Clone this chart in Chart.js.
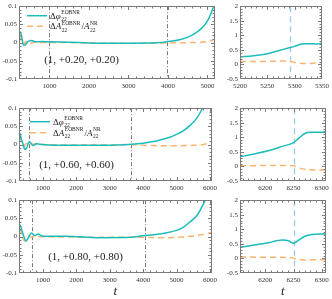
<!DOCTYPE html>
<html><head><meta charset="utf-8">
<script src="https://cdn.jsdelivr.net/npm/chart.js@4.4.0/dist/chart.umd.min.js"></script>
<style>
html,body{margin:0;padding:0;background:#fff;}
#wrap{position:relative;width:332px;height:299px;overflow:hidden;background:#fff;}
canvas{position:absolute;}
</style></head><body><div id="wrap"></div>
<script>
// ---------------- DATA ----------------
// Panel 1 (1, +0.20, +0.20)
const phase1T = [230, 260, 300, 340, 380, 430, 480, 550, 620, 700, 800, 1000, 1500, 2000, 2500, 3000, 3500, 3800, 4000, 4200, 4400, 4600, 4750, 4900, 5000, 5080, 5150, 5190];
const phase1V = [0.028, 0.030, 0.015, -0.006, -0.007, 0.000, 0.004, 0.006, 0.003, 0.002, 0.003, 0.002, 0.001, -0.001, -0.002, -0.002, -0.001, 0.000, 0.003, 0.006, 0.011, 0.020, 0.030, 0.045, 0.060, 0.078, 0.098, 0.115];
const amp1T = [230, 270, 310, 350, 400, 460, 520, 600, 800, 1500, 2500, 3500, 4000, 4500, 4800, 5000, 5100, 5190];
const amp1V = [0.020, 0.015, -0.002, -0.006, 0.003, 0.002, -0.002, 0.001, 0.000, 0.000, -0.002, -0.002, -0.001, 0.000, 0.001, 0.003, 0.006, 0.010];
const phaseR1T = [5200, 5225, 5250, 5270, 5290, 5300, 5310, 5320, 5335, 5342, 5350];
const phaseR1V = [0.26, 0.30, 0.37, 0.47, 0.57, 0.62, 0.69, 0.71, 0.71, 0.70, 0.74];
const ampR1T = [5200, 5230, 5260, 5285, 5292, 5300, 5310, 5320, 5335, 5350];
const ampR1V = [0.10, 0.10, 0.11, 0.12, 0.11, 0.07, 0.04, 0.03, 0.04, 0.07];
// Panel 2 (1, +0.60, +0.60)
const phase2T = [285, 315, 360, 400, 460, 510, 590, 660, 710, 800, 900, 1200, 2000, 2700, 3200, 3650, 4000, 4400, 4800, 5000, 5200, 5400, 5600, 5750, 5850];
const phase2V = [0.032, 0.030, 0.012, 0.003, -0.013, -0.010, 0.008, 0.002, -0.003, 0.002, 0.001, -0.001, -0.002, -0.002, -0.001, 0.001, 0.004, 0.010, 0.020, 0.028, 0.038, 0.052, 0.072, 0.095, 0.115];
const amp2T = [285, 330, 380, 430, 500, 580, 700, 1000, 2000, 3000, 3600, 4000, 4500, 5000, 5500, 5800, 6000, 6050];
const amp2V = [0.015, 0.018, 0.005, -0.005, 0.003, -0.002, 0.001, 0.000, -0.001, -0.001, 0.000, -0.002, -0.003, -0.003, -0.002, 0.000, 0.006, 0.010];
const phaseR2T = [6155, 6180, 6205, 6230, 6250, 6260, 6270, 6280, 6307];
const phaseR2V = [0.33, 0.43, 0.54, 0.69, 0.82, 0.98, 1.13, 1.17, 1.17];
const ampR2T = [6155, 6200, 6240, 6250, 6258, 6270, 6290, 6307];
const ampR2V = [0.02, 0.03, 0.03, 0.02, -0.04, -0.10, -0.12, -0.12];
// Panel 3 (1, +0.80, +0.80)
const phase3T = [285, 315, 360, 413, 491, 559, 657, 755, 853, 1000, 1700, 2700, 3650, 4040, 4300, 4630, 5000, 5220, 5400, 5610, 5750, 5860, 5950];
const phase3V = [0.030, 0.032, 0.020, 0.005, -0.012, -0.004, 0.010, 0.003, 0.007, 0.001, 0.001, -0.003, -0.002, 0.003, 0.005, 0.009, 0.017, 0.027, 0.040, 0.058, 0.080, 0.100, 0.120];
const amp3T = [285, 315, 413, 491, 559, 657, 800, 1500, 3000, 4000, 4630, 5200, 5610, 5900, 6050];
const amp3V = [0.015, 0.018, -0.008, -0.012, 0.001, -0.001, 0.000, -0.001, -0.002, -0.002, -0.003, -0.001, 0.003, 0.008, 0.012];
const phaseR3T = [6155, 6180, 6205, 6230, 6242, 6250, 6259, 6270, 6282, 6307];
const phaseR3V = [0.38, 0.46, 0.54, 0.63, 0.60, 0.52, 0.63, 0.76, 0.82, 0.84];
const ampR3T = [6155, 6200, 6245, 6255, 6270, 6307];
const ampR3V = [0.05, 0.04, 0.03, -0.02, -0.05, -0.04];

// vertical markers
const dashDot1 = [1000, 3980];
const dashDot2 = [590, 3640];
const dashDot3 = [680, 4050];
const merger1 = [5291];
const merger2 = [6250];
const merger3 = [6250];

// tick labels
const leftYTicks = [-0.1, -0.05, 0, 0.05, 0.1];
const rightYTicks = [-0.5, 0, 0.5, 1, 1.5, 2];
const leftXTicks1 = [1000, 2000, 3000, 4000, 5000];
const leftXTicks23 = [1000, 2000, 3000, 4000, 5000, 6000];
const rightXTicks1 = [5200, 5250, 5300, 5350];
const rightXTicks23 = [6200, 6250, 6300];
const labels = ['(1, +0.20, +0.20)', '(1, +0.60, +0.60)', '(1, +0.80, +0.80)'];

// ---------------- STYLE ----------------
const CYAN = '#1bbcbc';
const ORANGE = '#fdb46e';
const BLUE = '#9ccbe8';
const FRAME = '#7a7a7a';
const TXT = '#333';
const SERIF = '"Liberation Serif","DejaVu Serif",serif';
const ODASH = [6,4];

function pts(t, v){ return t.map((x,i)=>({x:x, y:v[i]})); }
function fmtY(v){ return (Math.round(v*1000)/1000).toString(); }

function drawRich(ctx, x, y, parts){
  let cx = x;
  parts.forEach(p=>{
    if (p.t){
      ctx.font = (p.it?'italic ':'') + '9px ' + SERIF;
      ctx.fillText(p.t, cx, y);
      cx += ctx.measureText(p.t).width;
    } else {
      ctx.font = '5.5px ' + SERIF;
      let w1 = 0, w2 = 0;
      if (p.sub){ ctx.fillText(p.sub, cx+0.5, y+2.5); w1 = ctx.measureText(p.sub).width; }
      if (p.sup){ ctx.fillText(p.sup, cx+0.5, y-4.5); w2 = ctx.measureText(p.sup).width; }
      cx += Math.max(w1, w2) + 1.5;
    }
  });
}

const framePlugin = {
  id: 'frame',
  beforeDatasetsDraw(chart, args, o){
    const {ctx, chartArea:a} = chart; const x = chart.scales.x;
    ctx.save();
    (o.vlines||[]).forEach(vl=>{
      vl.values.forEach(v=>{
        const px = Math.round(x.getPixelForValue(v))+0.5;
        ctx.strokeStyle = vl.color; ctx.lineWidth = vl.width; ctx.setLineDash(vl.dash);
        ctx.beginPath(); ctx.moveTo(px, a.top); ctx.lineTo(px, a.bottom); ctx.stroke();
      });
    });
    ctx.restore();
  },
  afterDatasetsDraw(chart, args, o){
    const {ctx, chartArea:a} = chart; const x = chart.scales.x, y = chart.scales.y;
    ctx.save();
    ctx.strokeStyle = FRAME; ctx.lineWidth = 1; ctx.setLineDash([]);
    const L = Math.round(a.left)+0.5, R = Math.round(a.right)-0.5, T = Math.round(a.top)+0.5, B = Math.round(a.bottom)-0.5;
    ctx.strokeRect(L, T, R-L, B-T);
    ctx.beginPath();
    const tick = (vals, len, horiz) => vals.forEach(v=>{
      if (horiz){
        const px = Math.round(x.getPixelForValue(v))+0.5;
        if (px < L+1 || px > R-1) return;
        ctx.moveTo(px, B); ctx.lineTo(px, B-len);
        ctx.moveTo(px, T); ctx.lineTo(px, T+len);
      } else {
        const py = Math.round(y.getPixelForValue(v))+0.5;
        if (py < T+1 || py > B-1) return;
        ctx.moveTo(L, py); ctx.lineTo(L+len, py);
        ctx.moveTo(R, py); ctx.lineTo(R-len, py);
      }
    });
    tick(o.xMajor, 3.5, true); tick(o.xMinor, 2, true);
    tick(o.yMajor, 3.5, false); tick(o.yMinor, 2, false);
    ctx.stroke();
    ctx.fillStyle = '#222'; ctx.textBaseline = 'alphabetic';
    if (o.label){
      ctx.font = '11px ' + SERIF; ctx.textAlign = 'center';
      ctx.fillText(o.label.text, a.left + o.label.dx, a.top + o.label.dy);
    }
    if (o.legend){
      ctx.textAlign = 'left';
      const lx = a.left + o.legend.dx, ly = a.top + o.legend.dy, gap = o.legend.gap;
      ctx.lineWidth = 1.5;
      ctx.strokeStyle = CYAN; ctx.setLineDash([]);
      ctx.beginPath(); ctx.moveTo(lx, ly); ctx.lineTo(lx+20, ly); ctx.stroke();
      ctx.strokeStyle = ORANGE; ctx.setLineDash(ODASH);
      ctx.beginPath(); ctx.moveTo(lx, ly+gap); ctx.lineTo(lx+20, ly+gap); ctx.stroke();
      ctx.setLineDash([]);
      drawRich(ctx, lx+23, ly+3, [{t:'Δ'},{t:'φ', it:true},{sub:'22', sup:'EOBNR'}]);
      drawRich(ctx, lx+23, ly+gap+3, [{t:'Δ'},{t:'A', it:true},{sub:'22', sup:'EOBNR'},{t:'/'},{t:'A', it:true},{sub:'22', sup:'NR'}]);
    }
    ctx.restore();
  }
};

function range(a, b, s){ const r=[]; for(let v=a; v<=b+1e-9; v+=s) r.push(Math.round(v*1e6)/1e6); return r; }

function makeChart(c){
  const cv = document.createElement('canvas');
  cv.width = c.w; cv.height = c.h;
  cv.style.left = c.left+'px'; cv.style.top = c.top+'px';
  cv.style.width = c.w+'px'; cv.style.height = c.h+'px';
  document.getElementById('wrap').appendChild(cv);
  new Chart(cv.getContext('2d'), {
    type: 'line',
    data: { datasets: [
      { data: pts(c.phaseT, c.phaseV), borderColor: CYAN, borderWidth: 1.5, pointRadius: 0, fill: false, cubicInterpolationMode: 'monotone' },
      { data: pts(c.ampT, c.ampV), borderColor: ORANGE, borderWidth: 1.5, borderDash: ODASH, pointRadius: 0, fill: false, cubicInterpolationMode: 'monotone' }
    ]},
    options: {
      responsive: false, animation: false, devicePixelRatio: 1,
      layout: { padding: { top: c.padTop, right: c.padRight, left: 0, bottom: 0 } },
      plugins: { legend: {display:false}, tooltip: {enabled:false},
        frame: { vlines: c.vlines, xMajor: c.xTicks, xMinor: c.xMinor, yMajor: c.yTicks, yMinor: c.yMinor, label: c.label, legend: c.legend } },
      scales: {
        x: { type: 'linear', min: c.xMin, max: c.xMax,
          grid: { display: false, drawTicks: false }, border: { display: false },
          afterBuildTicks: s => { s.ticks = c.xTicks.map(v=>({value:v})); },
          afterFit: s => { s.height = c.xH; },
          ticks: { font: { family: SERIF, size: 7 }, color: TXT, padding: 3, maxRotation: 0, autoSkip: false, callback: v => String(v) },
          title: c.xTitle ? { display: true, text: 't', font: { family: SERIF, size: 13, style: 'italic' }, color: '#222', padding: {top: 0, bottom: 0} } : { display: false }
        },
        y: { type: 'linear', min: c.yMin, max: c.yMax,
          grid: { display: false, drawTicks: false }, border: { display: false },
          afterBuildTicks: s => { s.ticks = c.yTicks.map(v=>({value:v})); },
          afterFit: s => { s.width = c.yW; },
          ticks: { font: { family: SERIF, size: 7 }, color: TXT, padding: 2, autoSkip: false, callback: v => fmtY(v) }
        }
      }
    },
    plugins: [framePlugin]
  });
}

const dashDotStyle = (vals) => ({ values: vals, color: '#555', width: 0.8, dash: [4,2,1,2] });
const mergerStyle = (vals) => ({ values: vals, color: BLUE, width: 1.3, dash: [6,4] });

const tops = [3, 105, 197];
const PH = 76;

const leftSets = [
  { phaseT: phase1T, phaseV: phase1V, ampT: amp1T, ampV: amp1V, xMin: 230, xMax: 5190, xTicks: leftXTicks1, vl: dashDot1, legend: { dx: 8, dy: 9.5, gap: 10.5 }, label: { text: labels[0], dx: 62.5, dy: 56.5 } },
  { phaseT: phase2T, phaseV: phase2V, ampT: amp2T, ampV: amp2V, xMin: 285, xMax: 6050, xTicks: leftXTicks23, vl: dashDot2, legend: { dx: 11, dy: 13.5, gap: 11 }, label: { text: labels[1], dx: 57.5, dy: 60 } },
  { phaseT: phase3T, phaseV: phase3V, ampT: amp3T, ampV: amp3V, xMin: 285, xMax: 6050, xTicks: leftXTicks23, vl: dashDot3, legend: null, label: { text: labels[2], dx: 66.5, dy: 59.5 } }
];
const rightSets = [
  { phaseT: phaseR1T, phaseV: phaseR1V, ampT: ampR1T, ampV: ampR1V, xMin: 5200, xMax: 5350, xTicks: rightXTicks1, vl: merger1 },
  { phaseT: phaseR2T, phaseV: phaseR2V, ampT: ampR2T, ampV: ampR2V, xMin: 6155, xMax: 6307, xTicks: rightXTicks23, vl: merger2 },
  { phaseT: phaseR3T, phaseV: phaseR3V, ampT: ampR3T, ampV: ampR3V, xMin: 6155, xMax: 6307, xTicks: rightXTicks23, vl: merger3 }
];

for (let i = 0; i < 3; i++){
  const last = i === 2;
  const xH = last ? 26 : 14;
  const padTop = 3;
  const L = leftSets[i];
  makeChart(Object.assign({}, L, {
    left: 0, top: tops[i]-padTop, w: 220, h: padTop + PH + xH, padTop: padTop, padRight: 5, xH: xH, yW: 19,
    xMinor: range(200, 6200, 200), yMin: -0.1, yMax: 0.1, yTicks: leftYTicks, yMinor: range(-0.1, 0.1, 0.01),
    vlines: [dashDotStyle(L.vl)], xTitle: last
  }));
  const Rr = rightSets[i];
  makeChart(Object.assign({}, Rr, {
    left: 218, top: tops[i]-padTop, w: 114, h: padTop + PH + xH, padTop: padTop, padRight: 6, xH: xH, yW: 22,
    xMinor: range(5150, 6350, 10), yMin: -0.5, yMax: 2, yTicks: rightYTicks, yMinor: range(-0.5, 2, 0.1),
    vlines: [mergerStyle(Rr.vl)], legend: null, label: null, xTitle: last
  }));
}
</script></body></html>
